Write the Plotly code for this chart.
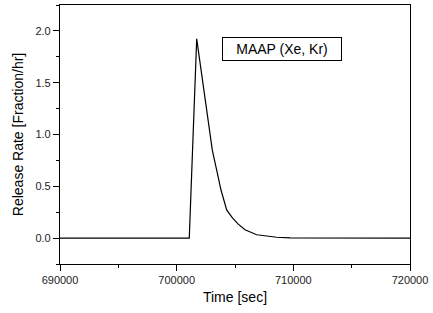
import plotly.graph_objects as go

# Data
time_sec = [690000, 701080, 701717, 702360, 703055, 703430, 703799, 704288,
            704780, 705282, 705857, 706860, 707700, 708573, 709714, 720000]
release_rate = [0.0, 0.0, 1.923, 1.41, 0.849, 0.657, 0.464, 0.272,
                0.195, 0.135, 0.08, 0.032, 0.017, 0.008, 0.002, 0.0]

x_ticks = [690000, 700000, 710000, 720000]
y_ticks = [0.0, 0.5, 1.0, 1.5, 2.0]
label_text = "MAAP (Xe, Kr)"

FONT = "Liberation Sans, Arial, sans-serif"

fig = go.Figure()
fig.add_trace(go.Scatter(
    x=time_sec, y=release_rate, mode="lines",
    line=dict(color="black", width=1.2), showlegend=False,
))

fig.add_annotation(
    x=709070, y=1.825, xref="x", yref="y", text=label_text, showarrow=False,
    font=dict(family=FONT, size=14, color="black"),
    bordercolor="black", borderwidth=1, borderpad=3, bgcolor="white",
    width=112, height=16,
)

axis_common = dict(
    showgrid=False, zeroline=False, showline=True, linecolor="black",
    linewidth=1.2, mirror=True, ticks="outside", tickcolor="black",
    ticklen=6, tickwidth=1,
    tickfont=dict(family=FONT, size=11, color="#222"),
)

fig.update_xaxes(
    range=[690000, 720000], tickvals=x_ticks,
    ticktext=[str(v) for v in x_ticks],
    title=dict(text="Time [sec]", font=dict(family=FONT, size=14, color="black"),
               standoff=6),
    minor=dict(ticks="outside", ticklen=3, tickcolor="black", dtick=5000,
               tick0=690000),
    **axis_common,
)
fig.update_yaxes(
    range=[-0.25, 2.25], tickvals=y_ticks,
    ticktext=[f"{v:.1f}" for v in y_ticks],
    title=dict(text="Release Rate [Fraction/hr]",
               font=dict(family=FONT, size=14, color="black"), standoff=8),
    minor=dict(ticks="outside", ticklen=3, tickcolor="black", dtick=0.25,
               tick0=0),
    **axis_common,
)

fig.update_layout(
    width=433, height=313,
    margin=dict(l=60, r=23, t=5, b=49),
    plot_bgcolor="white", paper_bgcolor="white",
    font=dict(family=FONT),
)

fig.write_html("out.html", config={"displayModeBar": False},
               post_script="document.body.style.margin='0';")
